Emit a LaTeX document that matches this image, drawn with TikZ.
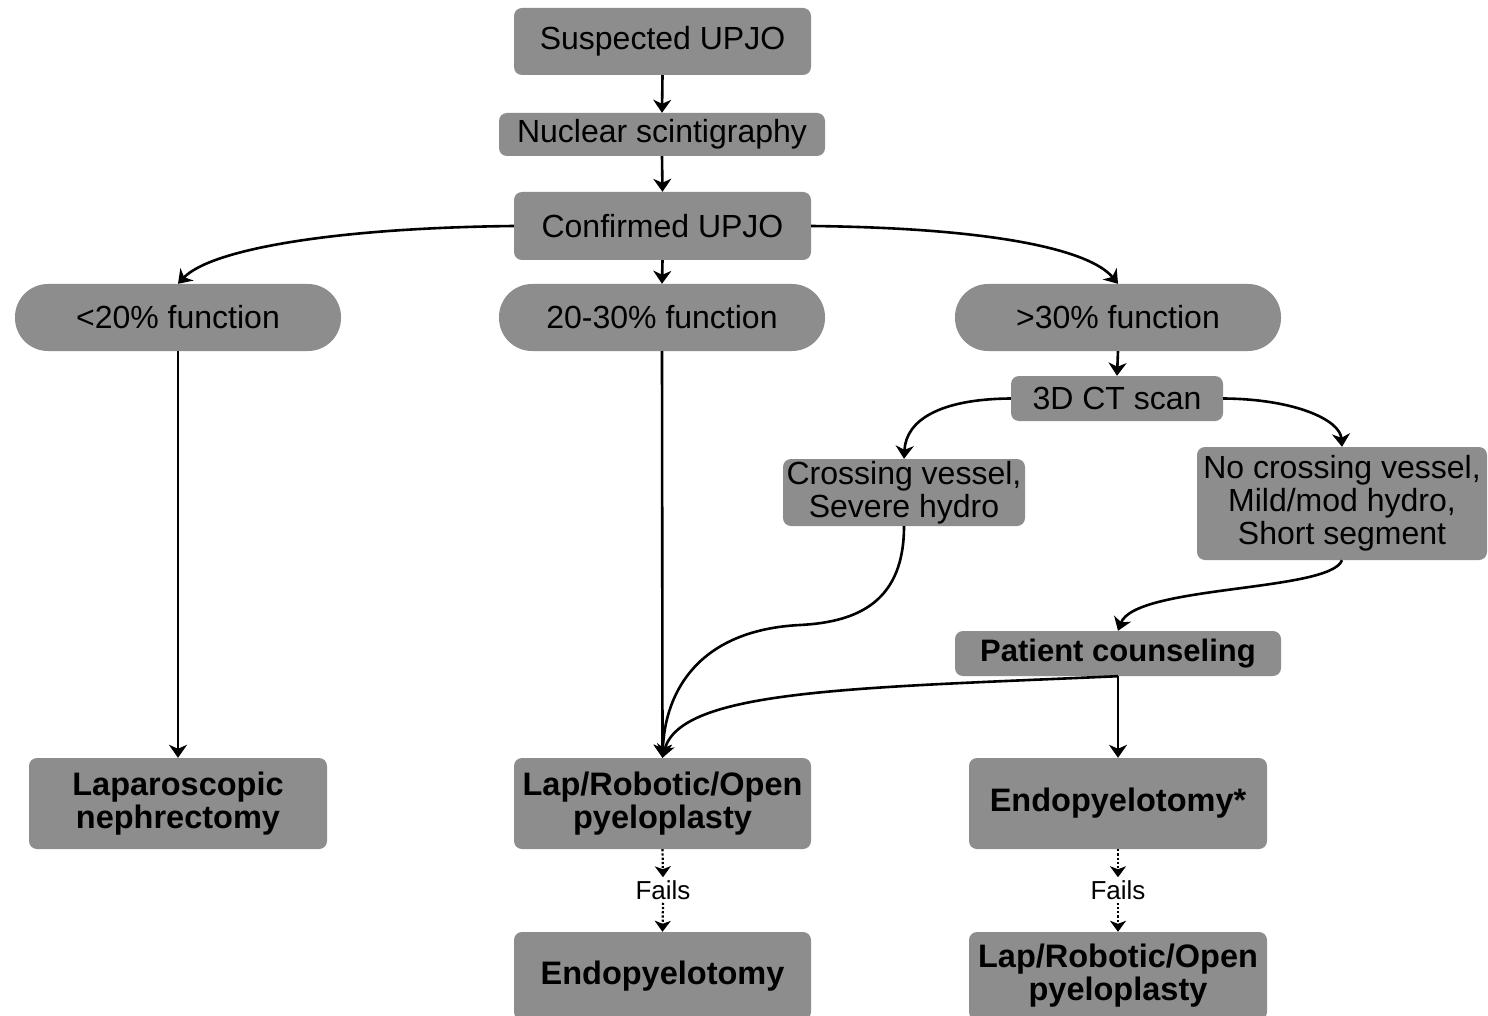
\documentclass[tikz,border=0pt]{standalone}
\usepackage{fontspec}
\setmainfont{Liberation Sans}
\usetikzlibrary{arrows.meta}
\definecolor{boxgray}{RGB}{141,141,141}
\begin{document}
\begin{tikzpicture}[x=1pt,y=-1pt,
  box/.style={fill=boxgray, rounded corners=8pt, inner sep=0pt, align=center, font=\fontsize{32}{33}\selectfont},
  boldbox/.style={box, font=\fontsize{32.5}{33}\selectfont\bfseries},
  pill/.style={box, rounded corners=33pt},
  conn/.style={line width=2.6pt, -{Stealth[length=13pt,width=18pt,inset=4pt]}},
  dotconn/.style={line width=2.2pt, dotted, -{Stealth[length=11pt,width=16pt,inset=3pt]}},
  faillabel/.style={font=\fontsize{26}{28}\selectfont, inner sep=3pt}]
\useasboundingbox (0,0) rectangle (1488,1016);
\fill[white] (0,0) rectangle (1488,1016);

\node[box, minimum width=297pt, minimum height=67pt] (s) at (662.5,41.5) {Suspected UPJO};
\node[box, minimum width=326pt, minimum height=43pt] (n) at (662,134.5) {Nuclear scintigraphy};
\node[box, minimum width=297pt, minimum height=68pt] (c) at (662.5,226) {Confirmed UPJO};
\node[pill, minimum width=326pt, minimum height=67pt] (p1) at (178,317.5) {<20\% function};
\node[pill, minimum width=326pt, minimum height=67pt] (p2) at (662,317.5) {20-30\% function};
\node[pill, minimum width=326pt, minimum height=67pt] (p3) at (1118,317.5) {>30\% function};
\node[box, minimum width=212pt, minimum height=45pt] (ct) at (1117,398.5) {3D CT scan};
\node[box, minimum width=242pt, minimum height=67pt] (cv) at (904,492.5) {Crossing vessel,\\Severe hydro};
\node[box, minimum width=290pt, minimum height=113pt] (nc) at (1342,503.5) {No crossing vessel,\\Mild/mod hydro,\\Short segment};
\node[boldbox, font=\fontsize{31}{33}\selectfont\bfseries, minimum width=326pt, minimum height=45pt] (pc) at (1118,653.5) {Patient counseling};
\node[boldbox, minimum width=298pt, minimum height=91pt] (lap) at (178,803.5) {Laparoscopic\\nephrectomy};
\node[boldbox, minimum width=297pt, minimum height=91pt] (lro) at (662.5,803.5) {Lap/Robotic/Open\\pyeloplasty};
\node[boldbox, minimum width=298pt, minimum height=91pt] (ens) at (1118,803.5) {Endopyelotomy*};
\node[faillabel] (f1) at (663,890) {Fails};
\node[faillabel] (f2) at (1118,890) {Fails};
\node[boldbox, minimum width=297pt, minimum height=88pt] (en) at (662.5,976) {Endopyelotomy};
\node[boldbox, minimum width=298pt, minimum height=88pt] (lro2) at (1118,976) {Lap/Robotic/Open\\pyeloplasty};

\draw[conn] (s.south) -- (n.north);
\draw[conn] (n.south) -- (c.north);
\draw[conn] (c.south) -- (p2.north);
\draw[conn] (c.west) .. controls (330,228) and (210,250) .. (p1.north);
\draw[conn] (c.east) .. controls (995,228) and (1090,250) .. (p3.north);
\draw[conn] (p1.south) -- (lap.north);
\draw[conn] (p2.south) -- (lro.north);
\draw[conn] (p3.south) -- (ct.north);
\draw[conn] (ct.west) .. controls (940,399) and (906,420) .. (cv.north);
\draw[conn] (ct.east) .. controls (1295,399) and (1340,420) .. (nc.north);
\draw[conn] (cv.south) .. controls (904,600) and (860,622) .. (800,625) .. controls (700,630) and (665,690) .. (lro.north);
\draw[conn] (nc.south) .. controls (1330,592) and (1135,585) .. (pc.north);
\draw[conn] (pc.south) .. controls (850,688) and (680,690) .. (lro.north);
\draw[conn] (pc.south) -- (ens.north);
\draw[dotconn] (lro.south) -- (f1.north);
\draw[dotconn] (f1.south) -- (en.north);
\draw[dotconn] (ens.south) -- (f2.north);
\draw[dotconn] (f2.south) -- (lro2.north);
\end{tikzpicture}
\end{document}
